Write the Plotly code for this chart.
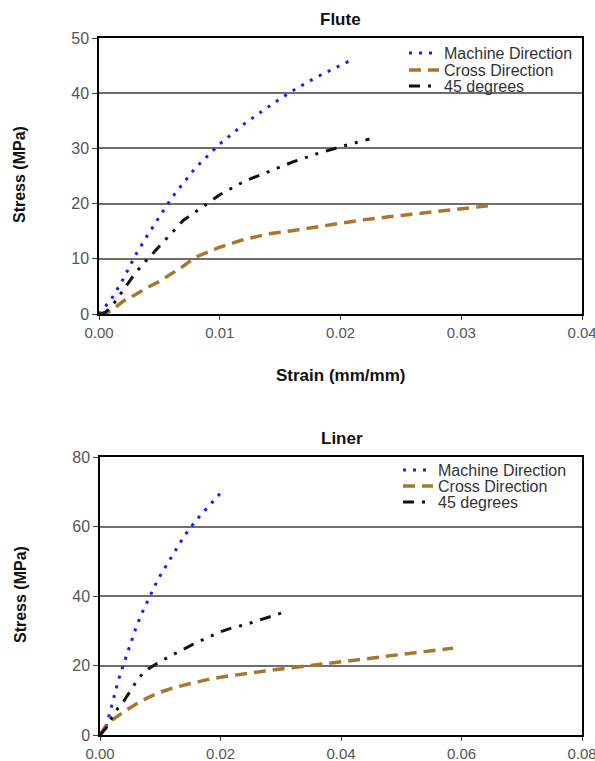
import plotly.graph_objects as go

W, H = 595, 761

# ---------------- Data: Flute ----------------
flute_md_strain = [0, 0.001, 0.002, 0.003, 0.004, 0.005, 0.006, 0.008, 0.010, 0.012, 0.014, 0.016, 0.018, 0.0207]
flute_md_stress = [0, 2.6, 6.3, 10.6, 14.2, 17.7, 21.0, 26.5, 30.8, 34.4, 37.5, 40.4, 42.9, 45.8]

flute_cd_strain = [0, 0.0005, 0.001, 0.002, 0.003, 0.004, 0.005, 0.006, 0.007, 0.008, 0.009, 0.010,
                   0.012, 0.014, 0.016, 0.018, 0.020, 0.022, 0.024, 0.026, 0.028, 0.030, 0.0322]
flute_cd_stress = [0, 0.1, 0.6, 2.3, 3.5, 4.8, 5.9, 7.3, 8.7, 10.3, 11.2, 12.1,
                   13.5, 14.5, 15.1, 15.8, 16.5, 17.1, 17.6, 18.1, 18.7, 19.1, 19.6]

flute_45_strain = [0, 0.0005, 0.001, 0.002, 0.003, 0.004, 0.005, 0.006, 0.007, 0.008, 0.009, 0.010,
                   0.012, 0.014, 0.016, 0.018, 0.020, 0.0224]
flute_45_stress = [0, 0.3, 1.2, 4.4, 7.4, 9.9, 12.3, 14.6, 17.0, 18.5, 20.0, 21.6,
                   24.0, 25.8, 27.5, 29.0, 30.3, 31.7]

# ---------------- Data: Liner ----------------
liner_md_strain = [0, 0.001, 0.002, 0.003, 0.004, 0.005, 0.006, 0.007, 0.008, 0.009, 0.010,
                   0.012, 0.014, 0.016, 0.018, 0.0199]
liner_md_stress = [0, 2.4, 8.8, 15.5, 20.8, 26.1, 31.0, 35.2, 39.1, 42.6, 45.9,
                   51.8, 57.3, 61.9, 65.8, 69.4]

liner_cd_strain = [0, 0.001, 0.002, 0.003, 0.004, 0.006, 0.008, 0.010, 0.012, 0.015, 0.018, 0.021,
                   0.025, 0.030, 0.035, 0.040, 0.045, 0.050, 0.055, 0.0586]
liner_cd_stress = [0, 2.7, 4.3, 5.6, 6.7, 8.9, 10.8, 12.3, 13.5, 14.8, 16.0, 16.9,
                   17.9, 19.0, 20.0, 21.1, 22.2, 23.2, 24.2, 25.0]

liner_45_strain = [0, 0.001, 0.002, 0.003, 0.004, 0.005, 0.006, 0.007, 0.008, 0.010, 0.012, 0.014,
                   0.016, 0.018, 0.020, 0.022, 0.024, 0.026, 0.028, 0.0312]
liner_45_stress = [0, 2.0, 5.2, 7.8, 9.9, 12.6, 15.3, 17.5, 19.0, 21.2, 23.1, 24.8,
                   26.6, 28.1, 29.7, 30.9, 31.7, 32.8, 34.0, 35.7]

series_names = ["Machine Direction", "Cross Direction", "45 degrees"]
flute_ticks_x = [0, 0.01, 0.02, 0.03, 0.04]
liner_ticks_x = [0, 0.02, 0.04, 0.06, 0.08]

# ---------------- Styles ----------------
FONT = "Liberation Sans, Arial, sans-serif"
BLUE = "#1a1aff"
BROWN = "#a8772e"
BLACK = "#111111"
styles = [
    dict(color=BLUE, width=3, dash="3px,7px"),
    dict(color=BROWN, width=3.5, dash="12px,7px"),
    dict(color=BLACK, width=3, dash="11px,8px,3px,8px,3px,8px"),
]

def px_x(p):
    return p / W

def px_y(p):
    return 1 - p / H

fig = go.Figure()

flute = [(flute_md_strain, flute_md_stress), (flute_cd_strain, flute_cd_stress), (flute_45_strain, flute_45_stress)]
liner = [(liner_md_strain, liner_md_stress), (liner_cd_strain, liner_cd_stress), (liner_45_strain, liner_45_stress)]

for i, (xs, ys) in enumerate(flute):
    fig.add_trace(go.Scatter(x=xs, y=ys, mode="lines", name=series_names[i], line=styles[i],
                             xaxis="x", yaxis="y", legend="legend" if i == 0 else f"legend{i+1}",
                             showlegend=True, hoverinfo="skip"))
for i, (xs, ys) in enumerate(liner):
    fig.add_trace(go.Scatter(x=xs, y=ys, mode="lines", name=series_names[i], line=styles[i],
                             xaxis="x2", yaxis="y2", legend=f"legend{i+4}",
                             showlegend=True, hoverinfo="skip"))

common_x = dict(showline=True, mirror=True, linecolor="black", linewidth=1.5,
                ticks="outside", ticklen=4, tickcolor="#444444", tickwidth=1.2,
                showgrid=False, zeroline=False, tickformat=".2f",
                tickfont=dict(family=FONT, size=15, color="#555555"),
                ticklabeloverflow="allow", automargin=False)
common_y = dict(showline=True, mirror=True, linecolor="black", linewidth=1.5,
                ticks="outside", ticklen=5, tickcolor="#444444", tickwidth=1.2,
                showgrid=True, gridcolor="#6e6e6e", gridwidth=1.5,
                zeroline=False, tickfont=dict(family=FONT, size=16, color="#555555"),
                ticklabeloverflow="allow", automargin=False)

layout = dict(
    template="none",
    width=W, height=H, autosize=False,
    showlegend=True,
    margin=dict(l=0, r=0, t=0, b=0, pad=0, autoexpand=False),
    paper_bgcolor="white", plot_bgcolor="white",
    font=dict(family=FONT),
    xaxis=dict(domain=[px_x(99), px_x(582)], range=[0, 0.04], tickvals=flute_ticks_x,
               anchor="y", **common_x),
    yaxis=dict(domain=[px_y(314), px_y(38)], range=[0, 50], dtick=10, anchor="x", **common_y),
    xaxis2=dict(domain=[px_x(100), px_x(582)], range=[0, 0.08], tickvals=liner_ticks_x,
                anchor="y2", **common_x),
    yaxis2=dict(domain=[px_y(735), px_y(457)], range=[0, 80], dtick=20, anchor="x2", **common_y),
)

legend_rows_top = [53, 70, 86]
legend_rows_bot = [470, 486, 502]
for i in range(6):
    key = "legend" if i == 0 else f"legend{i+1}"
    if i < 3:
        xl, yc = 404, legend_rows_top[i]
    else:
        xl, yc = 398, legend_rows_bot[i - 3]
    layout[key] = dict(x=px_x(xl), y=px_y(yc), xanchor="left", yanchor="middle",
                       xref="paper", yref="paper", bgcolor="rgba(0,0,0,0)",
                       borderwidth=0, itemwidth=30, visible=True,
                       font=dict(family=FONT, size=16, color="#333333"))

fig.update_layout(**layout)

def ann(text, x, y, size, angle=0):
    fig.add_annotation(text=f"<b>{text}</b>", x=px_x(x), y=px_y(y), xref="paper", yref="paper",
                       xanchor="center", yanchor="middle", showarrow=False, textangle=angle,
                       font=dict(family=FONT, size=size, color="#111111"))

ann("Flute", 340, 20, 17)
ann("Strain (mm/mm)", 340, 375, 17)
ann("Stress (MPa)", 20, 175, 16, -90)
ann("Liner", 342, 438, 17)
ann("Stress (MPa)", 20, 595, 16, -90)

fig.write_html("out.html", config={"displayModeBar": False},
               post_script="document.body.style.margin='0px';")
